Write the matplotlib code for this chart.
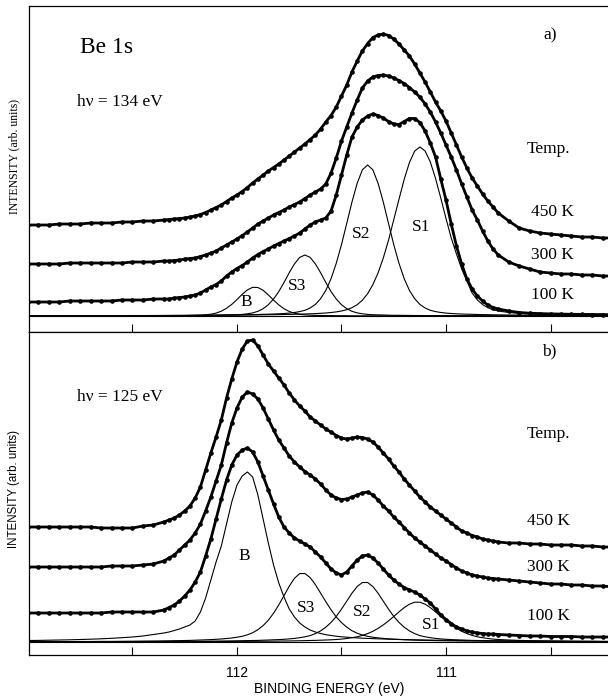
import matplotlib
matplotlib.use("Agg")
import matplotlib.pyplot as plt

# binding energy grid (eV): coarse on the flat parts, finer across the peaks
energy = [113.00, 112.95, 112.90, 112.85, 112.80, 112.75, 112.70, 112.65, 112.60, 112.55,
          112.50, 112.45, 112.40,
          112.350, 112.325, 112.300, 112.275, 112.250, 112.225, 112.200, 112.175, 112.150, 112.125,
          112.100, 112.075, 112.050, 112.025, 112.000, 111.975, 111.950, 111.925, 111.900, 111.875,
          111.850, 111.825, 111.800, 111.775, 111.750, 111.725, 111.700, 111.675, 111.650, 111.625,
          111.600, 111.575, 111.550, 111.525, 111.500, 111.475, 111.450, 111.425, 111.400, 111.375,
          111.350, 111.325, 111.300, 111.275, 111.250, 111.225, 111.200, 111.175, 111.150, 111.125,
          111.100, 111.075, 111.050, 111.025, 111.000, 110.975, 110.950, 110.925, 110.900, 110.875,
          110.850, 110.825, 110.800, 110.775, 110.750,
          110.70, 110.65, 110.60, 110.55, 110.50, 110.45, 110.40, 110.35, 110.30, 110.25, 110.20]

# ---- panel a) hv = 134 eV ----
a_450 = [91, 91, 91, 92, 92, 92, 93, 93, 93, 94, 94, 95, 95,
         96, 96.5, 97, 97.5, 98, 99, 100, 101.5, 103.5, 106,
         108.5, 111, 114.5, 118, 121, 124.5, 128.5, 133, 137, 141,
         145, 148.5, 152, 156, 160, 164, 168, 172, 176.5, 181,
         187, 194, 200.5, 209, 220, 231, 244, 255, 265, 272.5,
         278.5, 281, 282, 280.5, 277, 272, 266, 260, 252, 243,
         234, 224, 214, 205, 195, 183, 171, 159, 148, 138,
         130, 122, 115, 109, 103,
         95, 88, 85, 83, 82, 81, 80, 79, 79, 78, 78]
a_300 = [52, 52, 52, 52, 53, 53, 53, 53, 53, 53, 54, 54, 54,
         55, 55, 55.5, 56, 57, 57.5, 58, 59.5, 61, 63,
         65, 68, 71, 74, 77, 80.5, 84, 88, 92, 95,
         98, 101, 103.5, 106, 109, 111.5, 114, 117.5, 121, 124,
         127, 132, 143, 158, 175, 189, 203, 216, 228, 235,
         239, 240.5, 241, 240, 238, 235.5, 232.5, 228.5, 224, 219,
         212, 204, 194, 183, 171, 159, 146, 132, 119, 106,
         96, 85, 75, 67, 61,
         54, 50, 47, 44, 43, 42, 42, 41, 41, 40, 40]
a_100 = [14, 14, 14, 14, 15, 15, 15, 15, 15, 16, 16, 16, 17,
         17, 17, 18, 18.5, 19, 20, 21, 23, 26, 29,
         31.5, 35, 40, 44, 47.5, 50.5, 54, 58, 61.5, 64.5,
         67, 70, 72.5, 75, 77.5, 80, 83, 87, 91, 94,
         96, 98, 105, 121, 141, 161, 179, 189, 196, 200,
         202, 200.5, 198, 194.5, 192, 191.5, 194.5, 197.5, 197.5, 193.5,
         185, 173, 159, 137, 116, 92, 70, 52, 37, 27,
         20, 15, 11, 8.5, 7,
         5, 3.5, 2.8, 2.4, 2.1, 1.9, 1.7, 1.6, 1.5, 1.4, 1.3]

a_B = [0.1, 0.1, 0.1, 0.1, 0.1, 0.1, 0.1, 0.1, 0.1, 0.2, 0.2, 0.2, 0.2,
       0.27, 0.3, 0.34, 0.38, 0.44, 0.52, 0.64, 0.83, 1.16, 1.8,
       2.9, 4.8, 7.7, 11.6, 16.5, 21.7, 26.1, 28.7, 28.5, 25.7,
       21.1, 15.9, 11.1, 7.3, 4.5, 2.8, 1.7, 1.1, 0.8, 0.6,
       0.5, 0.4, 0.4, 0.3, 0.3, 0.3, 0.2, 0.2, 0.2, 0.2,
       0.2, 0.2, 0.2, 0.2, 0.2, 0.2, 0.2, 0.2, 0.2, 0.2,
       0.1, 0.1, 0.1, 0.1, 0.1, 0.1, 0.1, 0.1, 0.1, 0.1,
       0.1, 0.1, 0.1, 0.1, 0.1,
       0.1, 0.1, 0.1, 0.1, 0.1, 0.1, 0.1, 0.1, 0.1, 0.1, 0.1]
a_S3 = [0.1, 0.1, 0.1, 0.1, 0.1, 0.15, 0.15, 0.15, 0.2, 0.2, 0.2, 0.25, 0.3,
        0.34, 0.36, 0.38, 0.4, 0.44, 0.47, 0.5, 0.55, 0.6, 0.7,
        0.7, 0.8, 1.0, 1.1, 1.3, 1.6, 2.2, 3.1, 4.7, 7.3,
        11.3, 17.0, 24.4, 33.5, 43.3, 52.1, 58.6, 61.0, 58.6, 52.1,
        43.3, 33.5, 24.4, 17.0, 11.3, 7.3, 4.7, 3.1, 2.2, 1.6,
        1.3, 1.1, 1.0, 0.8, 0.7, 0.7, 0.6, 0.55, 0.5, 0.47,
        0.44, 0.4, 0.38, 0.36, 0.34, 0.32, 0.3, 0.3, 0.28, 0.27,
        0.26, 0.25, 0.24, 0.23, 0.22,
        0.2, 0.2, 0.2, 0.2, 0.15, 0.15, 0.15, 0.1, 0.1, 0.1, 0.1]
a_S2 = [0.25, 0.25, 0.3, 0.3, 0.3, 0.3, 0.35, 0.35, 0.4, 0.4, 0.45, 0.45, 0.5,
        0.5, 0.55, 0.6, 0.6, 0.6, 0.7, 0.7, 0.7, 0.8, 0.8,
        0.9, 0.9, 1.0, 1.0, 1.1, 1.2, 1.3, 1.4, 1.5, 1.7,
        1.8, 2.0, 2.2, 2.5, 2.9, 3.5, 4.4, 5.7, 8.0, 11.6,
        17.3, 25.6, 37.3, 52.7, 71.4, 92.5, 113.9, 132.7, 146.2, 151.0,
        146.2, 132.7, 113.9, 92.5, 71.4, 52.7, 37.3, 25.6, 17.3, 11.6,
        8.0, 5.7, 4.4, 3.5, 2.9, 2.5, 2.2, 2.0, 1.8, 1.7,
        1.5, 1.4, 1.3, 1.2, 1.1,
        1.0, 0.9, 0.8, 0.7, 0.65, 0.6, 0.55, 0.5, 0.5, 0.45, 0.4]
a_S1 = [0.3, 0.3, 0.3, 0.3, 0.3, 0.35, 0.35, 0.35, 0.4, 0.4, 0.4, 0.45, 0.45,
        0.5, 0.5, 0.55, 0.55, 0.6, 0.6, 0.65, 0.65, 0.7, 0.7,
        0.75, 0.8, 0.85, 0.85, 0.9, 0.95, 1.0, 1.05, 1.1, 1.2,
        1.25, 1.3, 1.4, 1.5, 1.6, 1.7, 1.9, 2.0, 2.2, 2.4,
        2.7, 3.0, 3.5, 4.1, 5.0, 6.3, 8.3, 11.3, 15.8, 22.3,
        31.3, 43.1, 58.0, 75.8, 96.3, 116.7, 136.7, 153.5, 164.9, 169.0,
        165.0, 154.0, 137.5, 118.0, 97.5, 78.0, 62.0, 47.0, 35.0, 23.0,
        16.0, 11.5, 8.3, 6.3, 5.0,
        3.5, 2.7, 2.2, 1.9, 1.6, 1.4, 1.25, 1.1, 1.0, 0.9, 0.85]

# ---- panel b) hv = 125 eV ----
b_450 = [115, 115, 115, 115, 115, 115, 115, 114, 114, 114, 114, 116, 117,
         120, 122, 124, 127, 131, 136, 144, 155, 172, 189,
         205, 222, 244, 263, 280, 293, 301, 302, 296, 287,
         278, 271, 264, 257, 249, 242, 236, 231, 225, 221,
         217, 213, 210, 206.5, 204, 203, 204, 205, 204.5, 203,
         200, 195, 189, 183, 176, 170, 163, 157, 151, 145,
         140, 135, 131, 127, 123, 119, 115, 111, 109, 106.5,
         105, 103, 102, 101, 100,
         99, 99, 98, 98, 97, 97, 97, 96, 96, 95, 95]
b_300 = [75, 75, 75, 75, 75, 75, 75, 75, 76, 76, 76, 77, 78,
         81, 84, 87, 92, 97, 102, 109, 118, 131, 145,
         161, 177, 199, 219, 234, 245, 250, 248, 243, 234,
         223, 212, 202, 194, 186, 180, 175, 170.5, 167, 163,
         158, 152, 147, 144, 142.5, 143, 145, 147, 149, 150,
         147, 142, 136, 131, 125, 120, 114.5, 109, 104, 100,
         96, 92, 88, 84, 81, 77.5, 74, 71, 69, 67,
         66, 65, 64, 63.5, 63,
         62, 61, 60, 59, 58, 58, 57, 57, 56, 56, 55]
b_100 = [29, 29, 29, 29, 29, 29, 29, 29, 30, 30, 30, 30, 30,
         32, 34.5, 37, 41, 46, 52, 60, 70, 86, 103,
         123, 143, 162, 177, 187, 192, 194, 190, 180, 166,
         152, 138, 125, 115, 109, 104, 101, 98, 95, 90,
         85, 79, 73, 69, 67, 70, 76, 82, 86, 87,
         84, 79, 73, 67, 62, 58, 54.5, 52, 50, 47,
         43, 39, 33, 27, 22.5, 18.5, 15, 13, 11, 10,
         9, 8.5, 8, 8, 7.5,
         7, 6.5, 6, 6, 5.5, 5.5, 5.5, 5, 5, 5, 5]

b_B = [1.5, 1.6, 1.8, 2.0, 2.2, 2.5, 2.8, 3.2, 3.7, 4.3, 5.0, 6.0, 7.5,
       9, 10, 11.5, 13, 15, 17, 21, 30, 44, 62,
       80, 96, 118, 140, 157, 166, 170, 165, 147, 123,
       99, 77, 59, 45, 33, 25, 19, 15, 12, 10,
       8.5, 7.3, 6.5, 5.8, 5.2, 4.8, 4.4, 4.1, 3.8, 3.6,
       3.4, 3.2, 3.0, 2.8, 2.7, 2.6, 2.4, 2.3, 2.2, 2.1,
       2.0, 1.9, 1.8, 1.8, 1.7, 1.6, 1.5, 1.5, 1.4, 1.4,
       1.3, 1.3, 1.2, 1.2, 1.1,
       1.0, 1.0, 0.9, 0.9, 0.8, 0.8, 0.7, 0.7, 0.7, 0.6, 0.6]
b_S3 = [0.3, 0.3, 0.4, 0.4, 0.4, 0.5, 0.5, 0.6, 0.6, 0.7, 0.8, 0.9, 1.0,
        1.1, 1.2, 1.3, 1.4, 1.5, 1.6, 1.8, 2.0, 2.2, 2.4,
        2.7, 3.0, 3.5, 4.0, 4.8, 5.7, 7.2, 9.3, 12.3, 16.4,
        21.8, 28.8, 37.1, 46.4, 55.8, 63.7, 68.4, 68.5, 64.4, 57.4,
        48.9, 40.3, 32.2, 25.1, 19.4, 14.9, 11.3, 8.8, 7.0, 5.7,
        4.8, 4.1, 3.6, 3.2, 2.8, 2.5, 2.3, 2.1, 1.9, 1.7,
        1.6, 1.5, 1.4, 1.3, 1.2, 1.15, 1.1, 1.0, 1.0, 0.95,
        0.9, 0.85, 0.8, 0.8, 0.75,
        0.7, 0.65, 0.6, 0.55, 0.5, 0.5, 0.45, 0.45, 0.4, 0.4, 0.4]
b_S2 = [0.27, 0.28, 0.3, 0.3, 0.32, 0.34, 0.36, 0.38, 0.4, 0.42, 0.45, 0.48, 0.5,
        0.55, 0.55, 0.6, 0.6, 0.65, 0.7, 0.7, 0.75, 0.8, 0.85,
        0.9, 0.95, 1.0, 1.1, 1.15, 1.3, 1.4, 1.5, 1.6, 1.8,
        2.0, 2.2, 2.4, 2.7, 3.1, 3.6, 4.3, 5.2, 6.4, 8.4,
        11.1, 14.8, 19.6, 25.6, 32.9, 40.8, 48.8, 55.5, 59.5, 59.5,
        55.5, 48.8, 40.8, 32.9, 25.6, 19.6, 14.8, 11.1, 8.4, 6.4,
        5.2, 4.3, 3.6, 3.1, 2.7, 2.4, 2.2, 2.0, 1.8, 1.6,
        1.5, 1.4, 1.3, 1.15, 1.1,
        0.95, 0.85, 0.75, 0.7, 0.65, 0.6, 0.55, 0.5, 0.5, 0.45, 0.45]
b_S1 = [0.2, 0.21, 0.22, 0.23, 0.24, 0.25, 0.26, 0.27, 0.28, 0.3, 0.3, 0.32, 0.34,
        0.35, 0.36, 0.37, 0.38, 0.4, 0.4, 0.42, 0.45, 0.45, 0.5,
        0.5, 0.5, 0.55, 0.55, 0.6, 0.6, 0.65, 0.7, 0.7, 0.75,
        0.8, 0.85, 0.9, 1.0, 1.05, 1.15, 1.25, 1.35, 1.5, 1.6,
        1.8, 2.0, 2.2, 2.5, 2.9, 3.5, 4.3, 5.2, 6.6, 8.4,
        10.7, 13.6, 17.1, 21.1, 25.5, 30.1, 34.4, 37.8, 39.8, 39.8,
        37.8, 34.4, 30.1, 25.5, 21.1, 17.1, 13.6, 10.7, 8.4, 6.6,
        5.2, 4.3, 3.5, 2.9, 2.5,
        2.0, 1.6, 1.35, 1.15, 1.0, 0.85, 0.75, 0.7, 0.6, 0.55, 0.5]

temps = ["450 K", "300 K", "100 K"]
ticks = [112.5, 112.0, 111.5, 111.0, 110.5]
tick_labels = ["", "112", "", "111", ""]

SERIF = "Liberation Serif"
SANS = "Liberation Sans"
W, H = 608, 698

for name, arr in [("a_450", a_450), ("a_300", a_300), ("a_100", a_100), ("a_B", a_B),
                  ("a_S3", a_S3), ("a_S2", a_S2), ("a_S1", a_S1), ("b_450", b_450),
                  ("b_300", b_300), ("b_100", b_100), ("b_B", b_B), ("b_S3", b_S3),
                  ("b_S2", b_S2), ("b_S1", b_S1)]:
    if len(arr) != len(energy):
        raise ValueError(f"{name}: {len(arr)} values, grid has {len(energy)}")


def fx(x):
    return x / W


def fy(y):
    return 1 - y / H


fig = plt.figure(figsize=(W / 100, H / 100), dpi=100)
ax_a = fig.add_axes([fx(29), fy(331.5), fx(608) - fx(29), fy(6) - fy(331.5)])
ax_b = fig.add_axes([fx(29), fy(655), fx(608) - fx(29), fy(331.5) - fy(655)])

panels = [
    (ax_a, [a_450, a_300, a_100], [a_B, a_S3, a_S2, a_S1], (-15.5, 310)),
    (ax_b, [b_450, b_300, b_100], [b_B, b_S3, b_S2, b_S1], (-13, 310.5)),
]

for ax, spectra, comps, ylim in panels:
    ax.axhline(0, color="black", lw=0.8)
    for comp in comps:
        ax.plot(energy, comp, color="black", lw=0.8)
    for spec in spectra:
        ax.plot(energy, spec, color="black", lw=2.0, marker="o", ms=3.3,
                markeredgewidth=0)
    ax.set_xlim(112.995, 110.225)
    ax.set_ylim(*ylim)
    ax.set_yticks([])
    ax.set_xticks(ticks)
    ax.tick_params(axis="x", direction="in", length=6, width=0.8, pad=8)
    ax.spines["right"].set_visible(False)
    for s in ["left", "top", "bottom"]:
        ax.spines[s].set_linewidth(0.9)

ax_a.set_xticklabels([])
ax_b.set_xticklabels(tick_labels, fontsize=10, family=SANS)

# panel a) texts
fig.text(fx(80), fy(53), "Be 1s", family=SERIF, fontsize=17, va="baseline")
fig.text(fx(77), fy(106), "h\u03bd = 134 eV", family=SERIF, fontsize=12.5, va="baseline")
fig.text(fx(543), fy(39), "a)", family=SERIF, fontsize=12.5, va="baseline")
fig.text(fx(527), fy(153), "Temp.", family=SERIF, fontsize=12.5, va="baseline")
for t, y in zip(temps, [216, 259, 299]):
    fig.text(fx(531), fy(y), t, family=SERIF, fontsize=12.5, va="baseline")
for lab, x, y in [("B", 240, 306), ("S3", 288, 290), ("S2", 352, 238), ("S1", 412, 231)]:
    fig.text(fx(x), fy(y), lab, family=SERIF, fontsize=12.5, va="baseline")
fig.text(fx(14), fy(157), "INTENSITY (arb. units)", family=SERIF, fontsize=8.5,
         rotation=90, ha="center", va="center")

# panel b) texts
fig.text(fx(77), fy(401), "h\u03bd = 125 eV", family=SERIF, fontsize=12.5, va="baseline")
fig.text(fx(542), fy(355), "b)", family=SERIF, fontsize=12.5, va="baseline")
fig.text(fx(527), fy(438), "Temp.", family=SERIF, fontsize=12.5, va="baseline")
for t, y in zip(temps, [525, 571, 620]):
    fig.text(fx(527), fy(y), t, family=SERIF, fontsize=12.5, va="baseline")
for lab, x, y in [("B", 238, 560), ("S3", 297, 612), ("S2", 353, 616), ("S1", 422, 629)]:
    fig.text(fx(x), fy(y), lab, family=SERIF, fontsize=12.5, va="baseline")
fig.text(fx(14), fy(489), "INTENSITY (arb. units)", family=SANS, fontsize=8.3,
         rotation=90, ha="center", va="center")

fig.text(fx(329.5), fy(689), "BINDING ENERGY (eV)", family=SANS, fontsize=10,
         ha="center", va="center")

fig.savefig("out.png", dpi=100)
